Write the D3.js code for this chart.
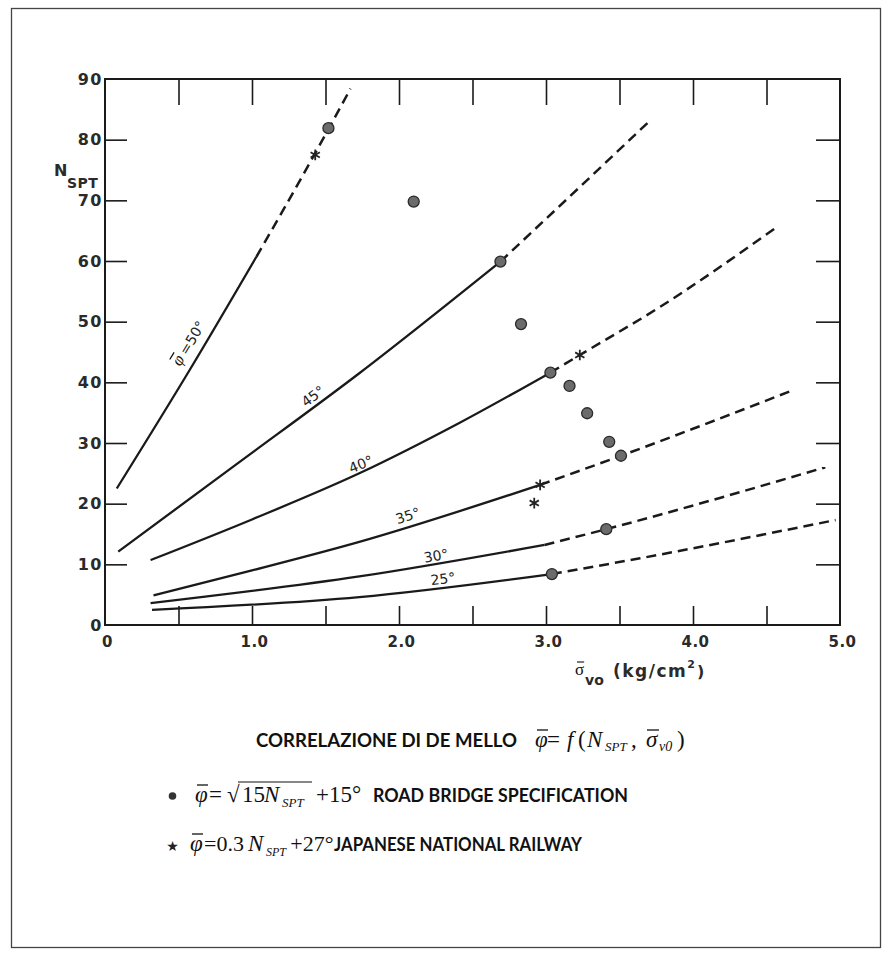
<!DOCTYPE html>
<html><head><meta charset="utf-8">
<script src="https://cdn.jsdelivr.net/npm/d3@7"></script>
<style>body{margin:0;background:#fff}svg{display:block}</style>
</head><body>
<svg id="c" width="892" height="959"></svg>
<script>
// ---- data (sigma'vo in kg/cm2, N_SPT) ----
const xLabelTicks = [0, 1, 2, 3, 4, 5];
const xLabelText = ["0", "1.0", "2.0", "3.0", "4.0", "5.0"];
const xMarkTicks = [0.5, 1, 1.5, 2, 2.5, 3, 3.5, 4, 4.5];
const yLabelTicks = [0, 10, 20, 30, 40, 50, 60, 70, 80, 90];
const yMarkTicks = [10, 20, 30, 40, 50, 60, 70, 80];

const curve50Solid = [[0.08, 22.5], [0.58, 42.2], [1.03, 60.7]];
const curve50Dash  = [[1.03, 60.7], [1.35, 74.3], [1.67, 88.4]];
const curve45Solid = [[0.09, 12.1], [0.9, 26.6], [1.73, 41.5], [2.69, 59.9]];
const curve45Dash  = [[2.69, 59.9], [3.23, 72.2], [3.71, 83.2]];
const curve40Solid = [[0.31, 10.7], [1.0, 17.4], [1.73, 25.0], [2.41, 33.3], [3.03, 41.6]];
const curve40Dash  = [[3.03, 41.6], [3.23, 44.5], [3.78, 52.5], [4.57, 65.6]];
const curve35Solid = [[0.33, 4.9], [1.0, 9.0], [1.73, 13.7], [2.96, 23.1]];
const curve35Dash  = [[2.96, 23.1], [3.51, 27.9], [4.69, 38.8]];
const curve30Solid = [[0.31, 3.6], [1.73, 8.0], [2.99, 13.2]];
const curve30Dash  = [[2.99, 13.2], [3.41, 15.8], [4.9, 26.0]];
const curve25Solid = [[0.32, 2.5], [1.73, 4.6], [3.04, 8.4]];
const curve25Dash  = [[3.04, 8.4], [3.64, 11.0], [4.97, 17.3]];

const curveLabels = ["=50°", "45°", "40°", "35°", "30°", "25°"];
const curveLabelAt = [[0.575, 46.6], [1.415, 37.7], [1.741, 26.5], [2.061, 18.0], [2.252, 11.4], [2.299, 7.6]];
const curveLabelAngle = [-58.8, -36.4, -22, -17.5, -10, -7];

// Road Bridge Specification points
const roadBridge = [[1.52, 81.9], [2.10, 69.8], [2.69, 59.9], [2.83, 49.6], [3.03, 41.6], [3.16, 39.4],
                    [3.28, 34.9], [3.43, 30.2], [3.51, 27.9], [3.41, 15.8], [3.04, 8.4]];
// Japanese National Railway points
const railway = [[1.43, 77.5], [3.23, 44.5], [2.96, 23.1], [2.92, 20.1]];

// ---- drawing ----
const svg = d3.select("#c");
const x = d3.scaleLinear().domain([0, 5]).range([105, 840]);
const y = d3.scaleLinear().domain([0, 90]).range([625, 79]);
const ink = "#1a1a1a";
const tickFont = "DejaVu Sans, sans-serif";
const capFont = "Lato, 'Open Sans', sans-serif";
const serif = "Liberation Serif, 'Times New Roman', serif";

// helper: text piece, optional overbar
function piece(g, px, py, str, o = {}) {
  const t = g.append("text").attr("x", px).attr("y", py)
    .attr("font-family", o.family || serif).attr("font-size", o.size || 23)
    .attr("font-style", o.italic ? "italic" : null).attr("font-weight", o.weight || null)
    .attr("fill", o.fill || "#111").text(str);
  if (o.ls != null) t.attr("letter-spacing", o.ls);
  if (o.len) t.attr("textLength", o.len).attr("lengthAdjust", "spacingAndGlyphs");
  if (o.bar) {
    const b = t.node().getBBox();
    g.append("line").attr("x1", b.x + (o.barIn || 2)).attr("x2", b.x + b.width - (o.barOut || 0))
      .attr("y1", py - o.bar).attr("y2", py - o.bar)
      .attr("stroke", "#111").attr("stroke-width", o.barW || 1.3);
  }
  return t;
}
const rightOf = t => { const b = t.node().getBBox(); return b.x + b.width; };

// outer frame
svg.append("rect").attr("x", 11.5).attr("y", 8.5).attr("width", 869).attr("height", 939)
  .attr("fill", "none").attr("stroke", "#444").attr("stroke-width", 1.3);

// plot frame
svg.append("rect").attr("x", x(0)).attr("y", y(90)).attr("width", x(5) - x(0)).attr("height", y(0) - y(90))
  .attr("fill", "none").attr("stroke", ink).attr("stroke-width", 2);

// inward tick marks
const gB = svg.append("g").attr("transform", `translate(0,${y(0)})`)
  .call(d3.axisBottom(x).tickValues(xMarkTicks).tickSizeInner(-19).tickSizeOuter(0).tickFormat(""));
const gT = svg.append("g").attr("transform", `translate(0,${y(90)})`)
  .call(d3.axisTop(x).tickValues(xMarkTicks).tickSizeInner(-26).tickSizeOuter(0).tickFormat(""));
const gL = svg.append("g").attr("transform", `translate(${x(0)},0)`)
  .call(d3.axisLeft(y).tickValues(yMarkTicks).tickSizeInner(-22).tickSizeOuter(0).tickFormat(""));
const gR = svg.append("g").attr("transform", `translate(${x(5)},0)`)
  .call(d3.axisRight(y).tickValues(yMarkTicks).tickSizeInner(-24).tickSizeOuter(0).tickFormat(""));
[gB, gT, gL, gR].forEach(g => {
  g.select(".domain").remove();
  g.selectAll("line").attr("stroke", ink).attr("stroke-width", 1.6);
});

// tick labels
const gXL = svg.append("g").attr("transform", `translate(0,${y(0)})`)
  .call(d3.axisBottom(x).tickValues(xLabelTicks).tickSize(0).tickPadding(11)
    .tickFormat((d, i) => xLabelText[i]));
gXL.select(".domain").remove();
gXL.selectAll("text").attr("font-family", tickFont).attr("font-size", 15).attr("font-weight", 700)
  .attr("fill", "#2a2a2a").attr("dx", 2).attr("letter-spacing", 0.5);

const gYL = svg.append("g").attr("transform", `translate(${x(0)},0)`)
  .call(d3.axisLeft(y).tickValues(yLabelTicks).tickSize(0).tickPadding(2));
gYL.select(".domain").remove();
gYL.selectAll("text").attr("font-family", tickFont).attr("font-size", 16).attr("font-weight", 700)
  .attr("fill", "#2a2a2a").attr("letter-spacing", 1.5);

// y axis title N_SPT
piece(svg, 54, 176, "N", {family: tickFont, size: 16, weight: 700, fill: "#2a2a2a"});
piece(svg, 67, 188, "SPT", {family: tickFont, size: 14, weight: 700, fill: "#2a2a2a", ls: 0.5});

// x axis title
piece(svg, 575, 675, "σ", {family: serif, size: 17, bar: 13, barIn: 0, barW: 1.1});
piece(svg, 585, 685, "vo", {family: tickFont, size: 14, weight: 700, fill: "#2a2a2a"});
const kg = piece(svg, 613, 677, "(kg/cm", {family: tickFont, size: 17, weight: 700, fill: "#2a2a2a", ls: 1.5});
const sup = piece(svg, rightOf(kg), 668, "2", {family: tickFont, size: 11, weight: 700, fill: "#2a2a2a"});
piece(svg, rightOf(sup) + 2, 677, ")", {family: tickFont, size: 16, weight: 700, fill: "#2a2a2a"});

// curves
const line = d3.line().x(d => x(d[0])).y(d => y(d[1])).curve(d3.curveMonotoneX);
const solids = [curve50Solid, curve45Solid, curve40Solid, curve35Solid, curve30Solid, curve25Solid];
const dashes = [curve50Dash, curve45Dash, curve40Dash, curve35Dash, curve30Dash, curve25Dash];
svg.append("g").selectAll("path").data(solids).join("path")
  .attr("d", line).attr("fill", "none").attr("stroke", ink).attr("stroke-width", 2.3);
svg.append("g").selectAll("path").data(dashes).join("path")
  .attr("d", line).attr("fill", "none").attr("stroke", ink).attr("stroke-width", 2.5)
  .attr("stroke-dasharray", "10,6");

// curve labels
curveLabels.forEach((t, i) => {
  const [lx, ly] = curveLabelAt[i];
  const g = svg.append("g")
    .attr("transform", `translate(${x(lx)},${y(ly)}) rotate(${curveLabelAngle[i]})`);
  if (i === 0) {
    piece(g, -26, 5, "φ", {family: serif, size: 17, italic: true, bar: 13, barIn: 1});
    piece(g, -13, 5, t, {family: tickFont, size: 14, fill: "#222"});
  } else {
    g.append("text").attr("text-anchor", "middle").attr("dy", "0.35em")
      .attr("font-family", tickFont).attr("font-size", 14).attr("fill", "#222").text(t);
  }
});

// road bridge points
svg.append("g").selectAll("circle").data(roadBridge).join("circle")
  .attr("cx", d => x(d[0])).attr("cy", d => y(d[1])).attr("r", 5.5)
  .attr("fill", "#6b6b6b").attr("stroke", "#2a2a2a").attr("stroke-width", 1.3);

// railway stars
svg.append("g").selectAll("path").data(railway).join("path")
  .attr("transform", d => `translate(${x(d[0])},${y(d[1])})`)
  .attr("d", d3.symbol(d3.symbolAsterisk, 80))
  .attr("fill", "none").attr("stroke", "#222").attr("stroke-width", 1.8);

// ---- captions ----
// title row
piece(svg, 256, 747, "CORRELAZIONE DI DE MELLO", {family: capFont, weight: 700, size: 18, len: 261});
piece(svg, 535, 747, "φ", {italic: true, bar: 17, barIn: 2});
piece(svg, 547, 747, "=");
piece(svg, 567, 747, "f", {italic: true});
piece(svg, 578, 747, "(");
piece(svg, 587, 747, "N", {italic: true});
piece(svg, 605, 751, "SPT", {italic: true, size: 13});
piece(svg, 631, 747, ",");
piece(svg, 646, 747, "σ", {italic: true, bar: 17, barIn: 1});
piece(svg, 659, 751, "v0", {italic: true, size: 14});
piece(svg, 677, 747, ")");

// legend row 1
svg.append("circle").attr("cx", 172.5).attr("cy", 796).attr("r", 3.8).attr("fill", "#333");
piece(svg, 195, 802, "φ", {italic: true, bar: 17, barIn: 2});
piece(svg, 209, 802, "=");
piece(svg, 227, 802, "√");
piece(svg, 242, 802, "15");
piece(svg, 264, 802, "N", {italic: true});
piece(svg, 282, 807, "SPT", {italic: true, size: 13});
svg.append("line").attr("x1", 238).attr("x2", 312).attr("y1", 782).attr("y2", 782)
  .attr("stroke", "#111").attr("stroke-width", 1.1);
piece(svg, 316, 802, "+15°");
piece(svg, 373, 802, "ROAD BRIDGE SPECIFICATION", {family: capFont, weight: 700, size: 18, len: 255});

// legend row 2
svg.append("text").attr("x", 172.5).attr("y", 851).attr("text-anchor", "middle")
  .attr("font-family", "DejaVu Sans, sans-serif").attr("font-size", 14).attr("fill", "#222").text("★");
piece(svg, 190, 851, "φ", {italic: true, bar: 17, barIn: 2});
const eq2 = piece(svg, 204, 851, "=0.3", {size: 22});
const n2 = piece(svg, rightOf(eq2) + 4, 851, "N", {italic: true});
const s2 = piece(svg, rightOf(n2) + 1, 856, "SPT", {italic: true, size: 12});
piece(svg, rightOf(s2) + 3, 851, "+27°", {size: 22});
piece(svg, 334, 851, "JAPANESE NATIONAL RAILWAY", {family: capFont, weight: 700, size: 18, len: 248});
</script>
</body></html>
